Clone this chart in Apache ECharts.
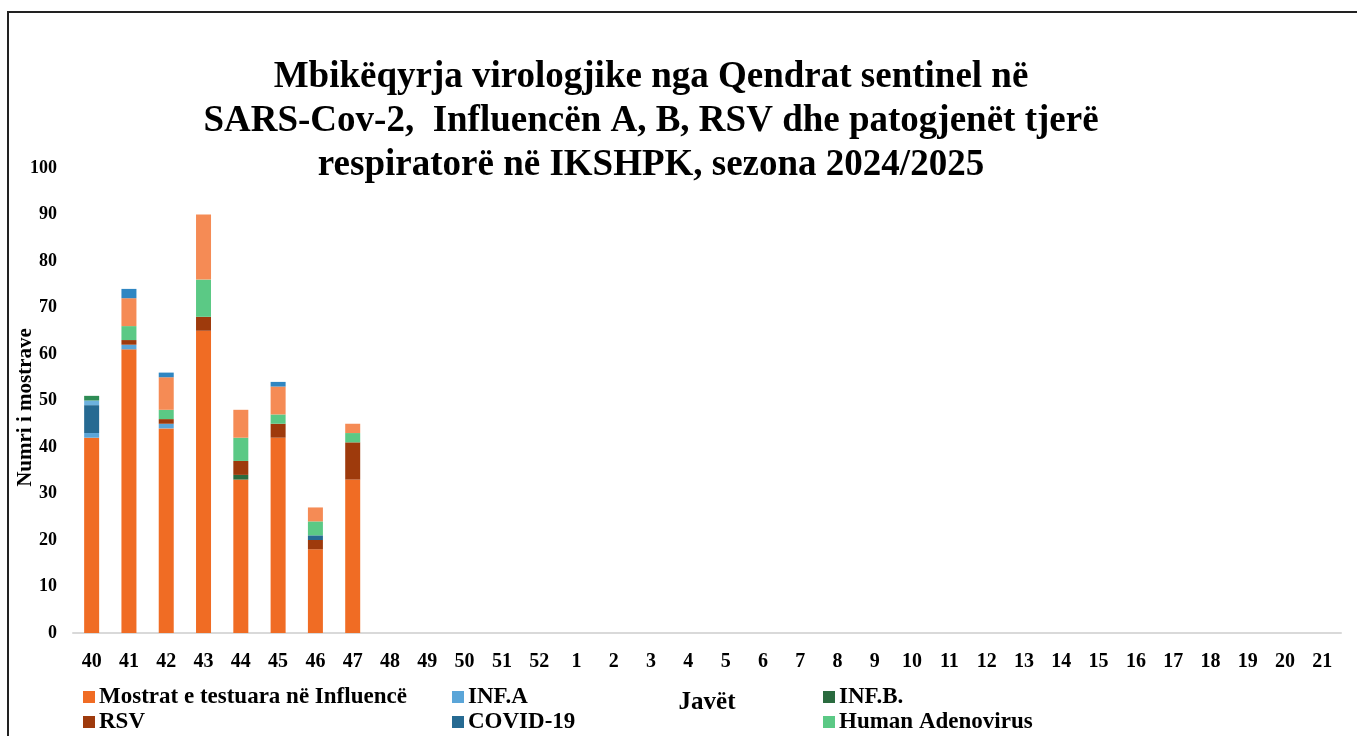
<!DOCTYPE html>
<html>
<head>
<meta charset="utf-8">
<script src="https://cdn.jsdelivr.net/npm/echarts@6/dist/echarts.min.js"></script>
<style>
  html, body { margin: 0; padding: 0; background: #fff; }
  #chart { width: 1357px; height: 736px; }
</style>
</head>
<body>
<div id="chart"></div>
<script>
let weeks = ["40", "41", "42", "43", "44", "45", "46", "47", "48", "49", "50", "51", "52",
    "1", "2", "3", "4", "5", "6", "7", "8", "9", "10", "11", "12", "13", "14", "15", "16",
    "17", "18", "19", "20", "21"];

// values per week, weeks 40-47 (later weeks have no data yet)
let mostrat = [42, 61, 44, 65, 33, 42, 18, 33];
let infA = [1, 1, 1, 0, 0, 0, 0, 0];
let infB = [0, 0, 0, 0, 1, 0, 0, 0];
let rsv = [0, 1, 1, 3, 3, 3, 2, 8];
let covid = [6, 0, 0, 0, 0, 0, 1, 0];
let adeno = [0, 3, 2, 8, 5, 2, 3, 2];
// series stacked above, their legend entries fall outside the picture
let tjere1 = [0, 6, 7, 14, 6, 6, 3, 2];
let tjere2 = [0, 2, 1, 0, 0, 1, 0, 0];
let tjere3 = [1, 0, 0, 0, 0, 0, 0, 0];
let tjere4 = [1, 0, 0, 0, 0, 0, 0, 0];

const FONT = "'Liberation Serif', 'Times New Roman', serif";

function bar(name, data, color) {
    return {
        name: name,
        type: 'bar',
        stack: 'total',
        barWidth: 15,
        data: data.map(v => v === 0 ? null : v),
        itemStyle: { color: color },
        emphasis: { disabled: true }
    };
}

function legend(left, names) {
    return {
        orient: 'vertical',
        left: left,
        top: 685,
        padding: 0,
        itemGap: 1,
        itemWidth: 12,
        itemHeight: 12,
        icon: 'rect',
        data: names,
        textStyle: {
            fontFamily: FONT,
            fontWeight: 'bold',
            fontSize: 23,
            color: '#000',
            padding: [0, 0, 0, -1],
            lineHeight: 24
        }
    };
}

var myChart = echarts.init(document.getElementById('chart'));
myChart.setOption({
    animation: false,
    title: {
        text: "Mbikëqyrja virologjike nga Qendrat sentinel në\nSARS-Cov-2,  Influencën A, B, RSV dhe patogjenët tjerë\nrespiratorë në IKSHPK, sezona 2024/2025",
        left: 651,
        top: 55,
        padding: 0,
        textAlign: 'center',
        textStyle: {
            fontFamily: FONT,
            fontWeight: 'bold',
            fontSize: 37,
            lineHeight: 44,
            color: '#000'
        }
    },
    legend: [
        legend(83, ["Mostrat e testuara në Influencë", "RSV"]),
        legend(452, ["INF.A", "COVID-19"]),
        legend(823, ["INF.B.", "Human Adenovirus"])
    ],
    grid: {
        left: 73,
        right: 16,
        top: 168,
        bottom: 103,
        outerBoundsMode: 'none'
    },
    xAxis: {
        type: 'category',
        data: weeks,
        name: "Javët",
        nameLocation: 'middle',
        nameGap: 57,
        nameMoveOverlap: false,
        nameTextStyle: {
            fontFamily: FONT,
            fontWeight: 'bold',
            fontSize: 25,
            color: '#000'
        },
        axisLine: { lineStyle: { color: '#d9d9d9', width: 2 } },
        axisTick: { show: false },
        axisLabel: {
            fontFamily: FONT,
            fontWeight: 'bold',
            fontSize: 20,
            color: '#000',
            margin: 19,
            interval: 0
        }
    },
    yAxis: {
        type: 'value',
        min: 0,
        max: 100,
        interval: 10,
        name: "Numri i mostrave",
        nameLocation: 'middle',
        nameGap: 37,
        nameMoveOverlap: false,
        nameTextStyle: {
            fontFamily: FONT,
            fontWeight: 'bold',
            fontSize: 21,
            color: '#000',
            padding: [0, 14, 0, 0]
        },
        axisLine: { show: false },
        axisTick: { show: false },
        splitLine: { show: false },
        axisLabel: {
            fontFamily: FONT,
            fontWeight: 'bold',
            fontSize: 18,
            color: '#000',
            margin: 16
        }
    },
    graphic: [{
        type: 'rect',
        shape: { x: 8, y: 12, width: 1400, height: 800 },
        style: { fill: 'none', stroke: '#222', lineWidth: 2 },
        silent: true
    }],
    series: [
        bar("Mostrat e testuara në Influencë", mostrat, '#f06c24'),
        bar("INF.A", infA, '#5aa5d8'),
        bar("INF.B.", infB, '#2a6b3f'),
        bar("RSV", rsv, '#9e3a0c'),
        bar("COVID-19", covid, '#266a92'),
        bar("Human Adenovirus", adeno, '#5bc985'),
        bar("Rhinovirus", tjere1, '#f58b55'),
        bar("Parainfluenza", tjere2, '#2f86c2'),
        bar("hMPV", tjere3, '#6db2de'),
        bar("Bocavirus", tjere4, '#2e8c55')
    ]
});
</script>
</body>
</html>
